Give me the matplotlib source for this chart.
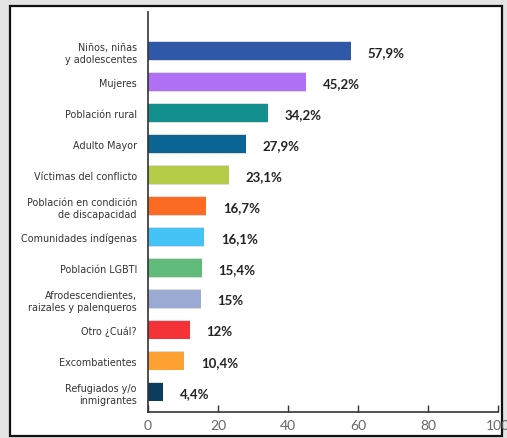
import matplotlib.pyplot as plt
from matplotlib.patches import Rectangle

# Data
categorias = [
    'Niños, niñas\ny adolescentes',
    'Mujeres',
    'Población rural',
    'Adulto Mayor',
    'Víctimas del conflicto',
    'Población en condición\nde discapacidad',
    'Comunidades indígenas',
    'Población LGBTI',
    'Afrodescendientes,\nraizales y palenqueros',
    'Otro ¿Cuál?',
    'Excombatientes',
    'Refugiados y/o\ninmigrantes',
]
porcentajes = [57.9, 45.2, 34.2, 27.9, 23.1, 16.7, 16.1, 15.4, 15.0, 12.0, 10.4, 4.4]
colores = ['#2F58A8', '#B070F5', '#13908E', '#0A6494', '#B4CB48', '#FD6A21',
           '#45C3F7', '#61BC7B', '#9AAAD2', '#F43237', '#FFA032', '#0C3C5E']
xticks = [0, 20, 40, 60, 80, 100]

plt.rcParams['font.family'] = ['Lato', 'DejaVu Sans']

fig = plt.figure(figsize=(5.07, 4.39), dpi=100)
fig.patch.set_facecolor('#e4e4e4')

# white card with black border (behind the axes)
fig.patches.append(Rectangle((10 / 507, 1 - 437 / 439), 492 / 507, 430 / 439,
                             transform=fig.transFigure, facecolor='white',
                             edgecolor='#111111', linewidth=1.6, zorder=-5))

ax = fig.add_axes([148 / 507, 1 - 413 / 439, 350 / 507, 400 / 439])
ax.set_zorder(2)
ax.set_facecolor('none')

pos = list(range(len(categorias)))
ax.barh(pos, porcentajes, height=0.62, color='#dcdcdc', zorder=1)
ax.barh(pos, porcentajes, height=0.56, color=colores, zorder=2)

for p, v in zip(pos, porcentajes):
    txt = f'{v:g}'.replace('.', ',') + '%'
    ax.annotate(txt, (v, p), xytext=(12, -1), textcoords='offset points',
                va='center', ha='left', fontsize=9.5, fontweight='bold',
                color='#222222')

ax.set_xlim(0, 100)
ax.set_ylim(11.65, -1.26)
ax.set_xticks(xticks)
ax.set_yticks(pos)
ax.set_yticklabels(categorias, fontsize=6.9, color='#333333', linespacing=1.25,
                   family='DejaVu Sans')
ax.tick_params(axis='y', direction='in', length=4.5, width=1, pad=8, color='#222222')
ax.tick_params(axis='x', direction='in', length=5, width=1, pad=5,
               labelsize=10, labelcolor='#666666', color='#333333')

for s in ['top', 'right']:
    ax.spines[s].set_visible(False)
for s in ['left', 'bottom']:
    ax.spines[s].set_color('#333333')
    ax.spines[s].set_linewidth(1.2)

fig.savefig('out.png', dpi=100, facecolor=fig.get_facecolor())
